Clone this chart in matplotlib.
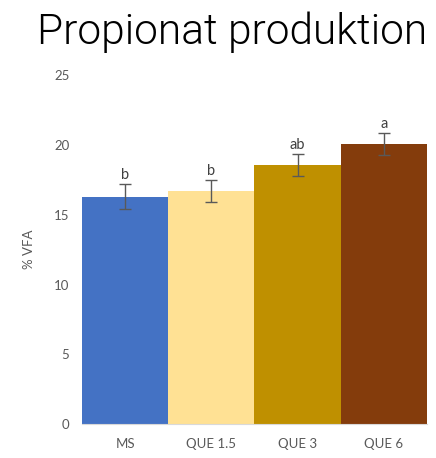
import matplotlib.pyplot as plt

plt.rcParams["font.family"] = ["Lato", "DejaVu Sans"]

# propionate share per treatment
groups = ["MS", "QUE 1.5", "QUE 3", "QUE 6"]
vfa = [16.3, 16.7, 18.55, 20.05]
err = [0.9, 0.8, 0.8, 0.8]
letters = ["b", "b", "ab", "a"]
colors = ["#4472C4", "#FFE194", "#BF9000", "#843C0C"]

fig = plt.figure(figsize=(4.36, 4.58), dpi=100)
ax = fig.add_axes([0.188, 0.074, 0.791, 0.762])

x = range(len(groups))
ax.bar(x, vfa, width=1.0, color=colors, yerr=err,
       error_kw=dict(ecolor="#595959", elinewidth=1, capsize=4, capthick=1))

for i, (v, e, l) in enumerate(zip(vfa, err, letters)):
    ax.text(i, v + e + 0.15, l, ha="center", va="bottom", fontsize=10.5, color="#404040")

ax.set_xlim(-0.5, 3.5)
ax.set_ylim(0, 25)
ax.set_yticks([0, 5, 10, 15, 20, 25])
ax.set_xticks(list(x))
ax.set_xticklabels(groups)
ax.tick_params(length=0, labelsize=9.5, colors="#595959", pad=10)
ax.tick_params(axis="y", pad=9)

for s in ["top", "right", "left"]:
    ax.spines[s].set_visible(False)
ax.spines["bottom"].set_color("#D9D9D9")

ax.set_ylabel("% VFA", fontsize=9.5, color="#595959", labelpad=14)

fig.text(0.532, 0.93, "Propionat produktion", ha="center", va="center",
         fontsize=30.5, color="black", family=["Roboto", "DejaVu Sans"],
         fontweight=300)

fig.savefig("out.png", dpi=100)
